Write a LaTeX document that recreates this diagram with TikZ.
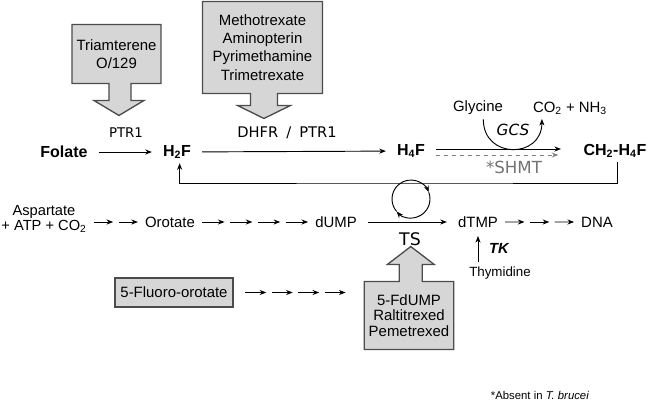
\documentclass[tikz,border=0pt]{standalone}
\usepackage{fontspec}
\setmainfont{Liberation Sans}
\newfontfamily\lblfont{DejaVu Sans}
\usetikzlibrary{calc,backgrounds,arrows.meta}
\tikzset{>={Stealth[length=5pt,width=3.8pt]}}
\tikzset{
  metab/.style={font=\fontsize{12}{14}\selectfont\bfseries, inner sep=3pt},
  cmpd/.style={font=\fontsize{11.2}{13.7}\selectfont, inner sep=3pt},
  enz/.style={font=\lblfont\fontsize{10}{12}\selectfont, inner sep=1pt},
  drugbox/.style={fill=black!16, draw=black!70, line width=1pt},
  flow/.style={->, shorten <=5pt, shorten >=5pt},
  hop/.style={->, shorten <=2pt, shorten >=2pt},
}

\begin{document}
\begin{tikzpicture}[x=0.75pt, y=-0.75pt, line width=0.7pt]
  \useasboundingbox (0,0) rectangle (650,407);

  % inhibitor boxes
  \node[cmpd, align=center, minimum width=65.25pt, minimum height=43.5pt] (triam) at (116.5,54) {Triamterene\\O/129};
  \node[cmpd, align=center, minimum width=89.25pt, minimum height=68.25pt] (mtx) at (262.5,47.5) {Methotrexate\\Aminopterin\\Pyrimethamine\\Trimetrexate};
  \node[cmpd, align=center, minimum width=66pt, minimum height=50.25pt, font=\fontsize{11.2}{11.5}\selectfont] (fdump) at (409,315.5) {5-FdUMP\\Raltitrexed\\Pemetrexed};
  \node[cmpd, drugbox, line width=0.8pt, minimum width=88.5pt, minimum height=21.75pt] (fluoro) at (174,292.5) {5-Fluoro-orotate};

  \begin{scope}[on background layer]
    \draw[drugbox] (triam.north west) -- (triam.north east) -- (triam.south east)
      -- ++(-30,0) -- ++(0,17) -- ++(13,0) -- ++(-25,15) -- ++(-25,-15) -- ++(15,0) -- ++(0,-17)
      -- (triam.south west) -- cycle;
    \draw[drugbox] (mtx.north west) -- (mtx.north east) -- (mtx.south east)
      -- ++(-45,0) -- ++(0,12) -- ++(13,0) -- ++(-26.5,13) -- ++(-26.5,-13) -- ++(13,0) -- ++(0,-12)
      -- (mtx.south west) -- cycle;
    \draw[drugbox] (fdump.south west) -- (fdump.north west)
      -- ++(35,0) -- ++(0,-17) -- ++(-12,0) -- ++(23.5,-18) -- ++(23.5,18) -- ++(-12,0) -- ++(0,17)
      -- (fdump.north east) -- (fdump.south east) -- cycle;
  \end{scope}

  % folate branch
  \node[metab] (folate) at (64,152) {Folate};
  \node[metab] (h2f) at (177,152) {H\textsubscript{2}F};
  \node[metab] (h4f) at (411,151) {H\textsubscript{4}F};
  \node[metab] (ch2) at (615,151) {CH\textsubscript{2}-H\textsubscript{4}F};

  \node[enz] (ptr1) at (126,133) {PTR1};
  \node[enz, font=\lblfont\fontsize{11}{13}\selectfont] (dhfr) at (287,133) {DHFR\hspace{6pt}/\hspace{6pt}PTR1};
  \node[cmpd] (gly) at (478,108) {Glycine};
  \node[cmpd] (co2) at (570,108) {CO\textsubscript{2} + NH\textsubscript{3}};
  \node[enz, font=\lblfont\itshape\fontsize{11.5}{13}\selectfont] (gcs) at (513,130) {GCS};
  \node[enz, text=black!55, font=\lblfont\fontsize{12.5}{14}\selectfont] (shmt) at (514,167) {*SHMT};

  \draw[flow] (folate) -- (h2f);
  \draw[flow] (h2f) -- (h4f);
  \draw[flow, shorten >=13.5pt] ([yshift=1.5pt]h4f.east) -- ([yshift=1.5pt]ch2.west);
  \draw[flow, dashed, black!50, shorten >=15.5pt] ([yshift=-3pt]h4f.east) -- ([yshift=-3pt]ch2.west);
  \draw[->] ([xshift=4pt]gly.south) .. controls +(0,40) and +(0,40) .. ([xshift=10pt]co2.south west);

  \coordinate (top) at (411,183);
  \coordinate (cyc) at (411,199);
  \draw[->] ([xshift=1.5pt]ch2.south) |- (top) -| ([xshift=2pt]h2f.south);

  % pyrimidine branch
  \node[cmpd, align=center, font=\fontsize{11}{9.5}\selectfont] (asp) at (44,219) {Aspartate\\+ ATP + CO\textsubscript{2}};
  \node[cmpd] (orot) at (170,222) {Orotate};
  \node[cmpd] (dump) at (336,222) {dUMP};
  \node[cmpd] (dtmp) at (478,222) {dTMP};
  \node[cmpd] (dna) at (597,222) {DNA};
  \node[enz, font=\lblfont\fontsize{13}{15}\selectfont] (ts) at (410,239) {TS};
  \node[cmpd, font=\fontsize{11}{13}\selectfont\bfseries\itshape] (tk) at (499,248) {TK};
  \node[cmpd, font=\fontsize{10}{12}\selectfont] (thym) at (500,273) {Thymidine};

  \draw[->] (cyc) ++(139:19) arc[start angle=139, end angle=339, radius=19];
  \draw[->] (cyc) ++(339:19) arc[start angle=339, end angle=499, radius=19];
  \draw[flow] (dump) -- (dtmp);
  \draw[->, shorten >=3pt] (dtmp.south |- thym.north) -- (dtmp.south);

  \coordinate (aspend) at (asp.east |- orot.west);
  \foreach \a/\b in {0/0.5,0.5/1}
    \draw[hop] ($(aspend)!\a!(orot.west)$) -- ($(aspend)!\b!(orot.west)$);
  \foreach \a/\b in {0/0.25,0.25/0.5,0.5/0.75,0.75/1}
    \draw[hop] ($(orot.east)!\a!(dump.west)$) -- ($(orot.east)!\b!(dump.west)$);
  \foreach \a/\b in {0/0.333,0.333/0.667,0.667/1}
    \draw[hop] ($(dtmp.east)!\a!(dna.west)$) -- ($(dtmp.east)!\b!(dna.west)$);

  \coordinate (fstart) at ($(fluoro.east)+(9,0)$);
  \coordinate (fend) at ($(fdump.west |- fluoro.east)+(-16,0)$);
  \foreach \a/\b in {0/0.25,0.25/0.5,0.5/0.75,0.75/1}
    \draw[hop] ($(fstart)!\a!(fend)$) -- ($(fstart)!\b!(fend)$);

  \node[font=\fontsize{8.5}{10}\selectfont] (note) at (540,395) {*Absent in \textit{T. brucei}};
\end{tikzpicture}
\end{document}
